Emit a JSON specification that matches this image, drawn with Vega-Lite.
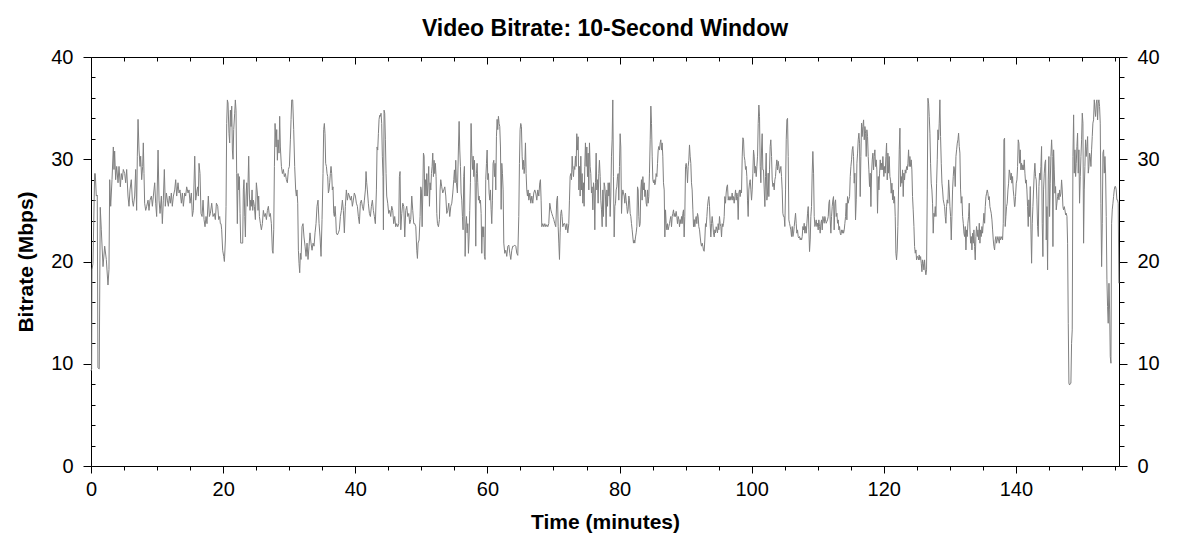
{
  "$schema": "https://vega.github.io/schema/vega-lite/v6.json",
  "width": 1028,
  "height": 409,
  "autosize": "none",
  "padding": {"left": 91, "top": 57, "right": 59, "bottom": 86},
  "background": "#ffffff",
  "title": {
    "text": "Video Bitrate: 10-Second Window",
    "font": "Liberation Sans",
    "fontSize": 23,
    "fontWeight": "bold",
    "color": "#000000",
    "anchor": "middle",
    "offset": 6
  },
  "data": {
    "values": [
      {"t":0,"v":9.3},{"t":0.1,"v":9.5},{"t":0.15,"v":19.2},{"t":0.3,"v":19.8},{"t":0.55,"v":28.6},{"t":0.65,"v":28.6},{"t":0.8,"v":26.4},{"t":0.95,"v":26.5},{"t":1.05,"v":9.6},{"t":1.25,"v":9.5},
      {"t":1.4,"v":25.3},{"t":1.56,"v":23.1},{"t":1.82,"v":19.5},{"t":2.07,"v":21.5},{"t":2.32,"v":20.2},{"t":2.57,"v":17.7},{"t":2.72,"v":19.2},{"t":2.83,"v":28.0},{"t":2.98,"v":25.4},{"t":3.18,"v":28.0},
      {"t":3.38,"v":31.2},{"t":3.48,"v":29.0},{"t":3.58,"v":30.8},{"t":3.73,"v":28.0},{"t":3.89,"v":29.3},{"t":4.09,"v":27.7},{"t":4.24,"v":29.3},{"t":4.44,"v":27.3},{"t":4.59,"v":28.6},{"t":4.74,"v":28.0},
      {"t":4.89,"v":29.0},{"t":5.1,"v":28.6},{"t":5.25,"v":27.7},{"t":5.4,"v":29.0},{"t":5.6,"v":26.4},{"t":5.75,"v":25.4},{"t":5.9,"v":27.0},{"t":6.1,"v":28.0},{"t":6.26,"v":26.0},{"t":6.41,"v":25.4},
      {"t":6.61,"v":26.4},{"t":6.76,"v":29.0},{"t":6.91,"v":25.0},{"t":7.01,"v":30.3},{"t":7.12,"v":33.9},{"t":7.27,"v":30.9},{"t":7.42,"v":29.3},{"t":7.52,"v":30.3},{"t":7.67,"v":28.0},{"t":7.82,"v":29.3},
      {"t":7.92,"v":31.6},{"t":8.02,"v":28.6},{"t":8.12,"v":25.7},{"t":8.28,"v":25.0},{"t":8.43,"v":25.4},{"t":8.63,"v":26.0},{"t":8.78,"v":25.0},{"t":8.93,"v":26.0},{"t":9.14,"v":26.4},{"t":9.29,"v":25.4},
      {"t":9.44,"v":26.4},{"t":9.64,"v":27.7},{"t":9.79,"v":25.7},{"t":9.94,"v":24.4},{"t":10.15,"v":30.9},{"t":10.3,"v":26.0},{"t":10.45,"v":24.7},{"t":10.65,"v":26.4},{"t":10.8,"v":23.7},{"t":10.95,"v":26.0},
      {"t":11.1,"v":29.0},{"t":11.25,"v":25.4},{"t":11.41,"v":26.7},{"t":11.56,"v":26.0},{"t":11.71,"v":25.4},{"t":11.86,"v":26.4},{"t":12.01,"v":25.7},{"t":12.16,"v":26.7},{"t":12.31,"v":25.4},{"t":12.47,"v":26.4},
      {"t":12.67,"v":27.0},{"t":12.82,"v":28.0},{"t":12.97,"v":26.4},{"t":13.17,"v":27.7},{"t":13.32,"v":26.7},{"t":13.47,"v":27.0},{"t":13.68,"v":25.7},{"t":13.83,"v":26.7},{"t":13.98,"v":25.4},{"t":14.18,"v":26.7},
      {"t":14.33,"v":26.4},{"t":14.48,"v":27.3},{"t":14.69,"v":26.7},{"t":14.84,"v":27.0},{"t":14.99,"v":25.7},{"t":15.19,"v":26.7},{"t":15.34,"v":24.4},{"t":15.49,"v":25.0},
      {"t":15.7,"v":30.3},{"t":15.85,"v":26.0},{"t":16.05,"v":27.0},{"t":16.15,"v":27.3},{"t":16.25,"v":26.4},{"t":16.35,"v":29.6},{"t":16.5,"v":28.6},{"t":16.65,"v":24.7},{"t":16.81,"v":24.4},{"t":16.96,"v":26.0},
      {"t":17.11,"v":24.1},{"t":17.26,"v":23.4},{"t":17.41,"v":24.4},{"t":17.56,"v":23.7},{"t":17.76,"v":26.4},{"t":17.92,"v":24.4},{"t":18.07,"v":24.7},{"t":18.27,"v":25.7},{"t":18.47,"v":24.4},{"t":18.67,"v":24.7},
      {"t":18.82,"v":24.1},{"t":18.98,"v":25.7},{"t":19.18,"v":25.4},{"t":19.33,"v":24.1},{"t":19.48,"v":24.4},{"t":19.58,"v":23.7},{"t":19.68,"v":23.7},{"t":19.78,"v":23.1},{"t":19.93,"v":21.1},{"t":20.09,"v":20.5},
      {"t":20.19,"v":20.0},{"t":20.34,"v":22.1},{"t":20.44,"v":25.4},{"t":20.54,"v":33.5},{"t":20.64,"v":35.8},{"t":20.74,"v":35.5},{"t":20.89,"v":32.5},{"t":20.99,"v":31.6},{"t":21.1,"v":34.8},{"t":21.2,"v":33.2},
      {"t":21.3,"v":35.2},{"t":21.4,"v":30.9},{"t":21.5,"v":30.0},{"t":21.6,"v":32.9},{"t":21.75,"v":34.5},{"t":21.85,"v":35.8},{"t":21.95,"v":34.8},{"t":22.05,"v":28.6},{"t":22.15,"v":23.7},{"t":22.26,"v":28.6},
      {"t":22.36,"v":27.0},{"t":22.46,"v":28.3},{"t":22.56,"v":24.7},{"t":22.66,"v":21.8},{"t":22.81,"v":21.8},{"t":22.96,"v":21.8},{"t":23.06,"v":27.0},{"t":23.16,"v":28.0},{"t":23.27,"v":24.4},{"t":23.37,"v":22.4},
      {"t":23.47,"v":26.4},{"t":23.57,"v":27.7},{"t":23.67,"v":25.4},{"t":23.77,"v":27.7},{"t":23.87,"v":30.3},{"t":23.97,"v":26.7},{"t":24.07,"v":25.0},{"t":24.17,"v":26.0},{"t":24.27,"v":25.4},{"t":24.38,"v":27.0},
      {"t":24.48,"v":25.0},{"t":24.58,"v":26.0},{"t":24.73,"v":25.4},{"t":24.88,"v":24.1},{"t":25.03,"v":27.7},{"t":25.18,"v":26.7},{"t":25.28,"v":25.0},{"t":25.38,"v":26.4},{"t":25.49,"v":24.4},{"t":25.64,"v":23.7},
      {"t":25.79,"v":23.1},{"t":25.94,"v":23.7},{"t":26.09,"v":25.0},{"t":26.24,"v":24.4},{"t":26.39,"v":24.7},{"t":26.55,"v":24.1},{"t":26.7,"v":25.0},{"t":26.85,"v":25.4},{"t":27.0,"v":24.4},{"t":27.15,"v":24.7},
      {"t":27.3,"v":23.7},{"t":27.45,"v":21.1},{"t":27.55,"v":20.8},{"t":27.66,"v":23.1},{"t":27.76,"v":29.3},{"t":27.86,"v":33.5},{"t":28.01,"v":31.2},{"t":28.11,"v":32.9},{"t":28.21,"v":29.9},{"t":28.31,"v":31.9},
      {"t":28.46,"v":30.6},{"t":28.56,"v":34.2},{"t":28.66,"v":31.2},{"t":28.82,"v":29.3},{"t":28.97,"v":28.6},{"t":29.12,"v":29.0},{"t":29.27,"v":28.3},{"t":29.42,"v":28.6},{"t":29.57,"v":28.0},{"t":29.72,"v":27.7},
      {"t":29.88,"v":29.0},{"t":30.03,"v":29.3},{"t":30.18,"v":31.9},{"t":30.28,"v":33.9},{"t":30.38,"v":35.8},{"t":30.53,"v":35.8},{"t":30.68,"v":32.9},{"t":30.83,"v":29.3},
      {"t":30.98,"v":27.0},{"t":31.08,"v":26.4},{"t":31.18,"v":27.0},{"t":31.29,"v":25.7},{"t":31.39,"v":21.1},{"t":31.49,"v":19.8},{"t":31.59,"v":18.9},{"t":31.69,"v":20.8},{"t":31.79,"v":20.2},{"t":31.94,"v":23.4},
      {"t":32.09,"v":23.7},{"t":32.24,"v":22.4},{"t":32.4,"v":21.5},{"t":32.55,"v":20.5},{"t":32.7,"v":21.8},{"t":32.85,"v":20.2},{"t":33.0,"v":21.5},{"t":33.15,"v":22.8},{"t":33.3,"v":21.8},{"t":33.46,"v":21.1},
      {"t":33.61,"v":21.8},{"t":33.76,"v":21.5},{"t":33.91,"v":22.8},{"t":34.06,"v":23.7},{"t":34.21,"v":25.4},{"t":34.36,"v":26.0},{"t":34.52,"v":23.7},{"t":34.67,"v":22.4},{"t":34.82,"v":20.5},{"t":34.97,"v":24.1},
      {"t":35.12,"v":28.6},{"t":35.22,"v":32.9},{"t":35.32,"v":33.5},{"t":35.42,"v":32.5},{"t":35.52,"v":29.6},{"t":35.63,"v":29.3},{"t":35.73,"v":28.6},{"t":35.83,"v":28.3},{"t":35.93,"v":26.7},{"t":36.03,"v":27.0},
      {"t":36.13,"v":27.7},{"t":36.23,"v":28.6},{"t":36.33,"v":29.3},{"t":36.43,"v":28.6},{"t":36.53,"v":27.0},{"t":36.63,"v":27.3},{"t":36.74,"v":24.7},{"t":36.84,"v":24.4},{"t":36.94,"v":25.4},{"t":37.04,"v":24.4},
      {"t":37.14,"v":22.8},{"t":37.29,"v":22.6},{"t":37.44,"v":22.8},{"t":37.59,"v":23.1},{"t":37.75,"v":24.4},{"t":37.9,"v":25.0},{"t":38.05,"v":26.0},{"t":38.2,"v":25.0},{"t":38.35,"v":22.8},{"t":38.5,"v":25.4},
      {"t":38.65,"v":27.0},{"t":38.81,"v":26.0},{"t":38.96,"v":26.7},{"t":39.11,"v":26.4},{"t":39.26,"v":26.0},{"t":39.41,"v":26.4},{"t":39.56,"v":25.4},{"t":39.71,"v":26.0},{"t":39.86,"v":26.7},{"t":40.02,"v":26.4},
      {"t":40.17,"v":25.7},{"t":40.32,"v":25.4},{"t":40.47,"v":24.4},{"t":40.62,"v":23.7},{"t":40.77,"v":25.7},{"t":40.92,"v":26.0},{"t":41.08,"v":25.4},{"t":41.23,"v":25.0},{"t":41.38,"v":26.0},{"t":41.53,"v":27.0},
      {"t":41.63,"v":28.8},{"t":41.73,"v":27.7},{"t":41.83,"v":27.0},{"t":41.98,"v":25.7},{"t":42.14,"v":24.7},{"t":42.29,"v":24.4},{"t":42.44,"v":25.4},{"t":42.59,"v":26.0},{"t":42.74,"v":25.0},{"t":42.89,"v":24.4},
      {"t":43.04,"v":23.7},{"t":43.2,"v":27.0},{"t":43.3,"v":31.2},{"t":43.4,"v":30.9},{"t":43.5,"v":32.5},{"t":43.6,"v":33.9},{"t":43.7,"v":34.3},{"t":43.8,"v":34.2},{"t":43.9,"v":34.5},{"t":44.0,"v":33.5},
      {"t":44.1,"v":30.3},{"t":44.2,"v":28.3},{"t":44.26,"v":23.1},{"t":44.36,"v":34.8},{"t":44.46,"v":34.5},{"t":44.56,"v":31.9},{"t":44.66,"v":28.6},{"t":44.76,"v":26.4},{"t":44.91,"v":25.7},{"t":45.06,"v":24.7},
      {"t":45.21,"v":25.0},{"t":45.37,"v":24.4},{"t":45.52,"v":25.4},{"t":45.67,"v":25.0},{"t":45.82,"v":23.7},{"t":45.97,"v":24.4},{"t":46.12,"v":23.4},{"t":46.27,"v":23.7},{"t":46.43,"v":23.4},{"t":46.58,"v":23.7},
      {"t":46.68,"v":28.3},{"t":46.78,"v":28.8},{"t":46.89,"v":23.1},{"t":47.04,"v":24.7},{"t":47.19,"v":25.7},{"t":47.34,"v":25.4},{"t":47.49,"v":22.4},{"t":47.64,"v":25.0},{"t":47.79,"v":25.4},{"t":47.95,"v":24.4},
      {"t":48.1,"v":24.7},{"t":48.25,"v":23.7},{"t":48.4,"v":24.1},{"t":48.55,"v":26.4},{"t":48.7,"v":25.0},{"t":48.85,"v":23.7},{"t":49.0,"v":23.7},{"t":49.16,"v":23.4},{"t":49.31,"v":21.1},{"t":49.41,"v":20.3},
      {"t":49.51,"v":21.8},{"t":49.66,"v":22.1},{"t":49.81,"v":24.4},{"t":49.91,"v":27.3},{"t":50.01,"v":27.0},{"t":50.12,"v":23.4},{"t":50.22,"v":26.7},{"t":50.32,"v":30.6},{"t":50.42,"v":30.3},{"t":50.52,"v":26.4},
      {"t":50.62,"v":28.0},{"t":50.72,"v":26.4},{"t":50.82,"v":28.6},{"t":50.92,"v":26.4},{"t":51.02,"v":27.7},{"t":51.12,"v":29.3},{"t":51.23,"v":25.4},{"t":51.33,"v":27.7},{"t":51.43,"v":27.0},{"t":51.53,"v":28.6},
      {"t":51.63,"v":29.3},{"t":51.73,"v":30.6},{"t":51.83,"v":28.3},{"t":51.93,"v":29.9},{"t":52.03,"v":28.6},{"t":52.13,"v":29.6},{"t":52.23,"v":28.3},{"t":52.34,"v":24.7},{"t":52.44,"v":23.7},{"t":52.59,"v":23.4},
      {"t":52.74,"v":24.1},{"t":52.84,"v":27.0},{"t":52.94,"v":28.0},{"t":53.09,"v":27.3},{"t":53.24,"v":26.7},{"t":53.4,"v":27.0},{"t":53.55,"v":27.3},{"t":53.7,"v":26.4},{"t":53.85,"v":24.7},{"t":54.0,"v":25.0},
      {"t":54.15,"v":25.7},{"t":54.3,"v":24.4},{"t":54.46,"v":25.4},{"t":54.61,"v":25.7},{"t":54.76,"v":26.7},{"t":54.91,"v":28.0},{"t":55.01,"v":28.96},{"t":55.11,"v":27.7},{"t":55.21,"v":29.9},{"t":55.31,"v":27.7},
      {"t":55.46,"v":26.7},{"t":55.62,"v":31.2},{"t":55.72,"v":33.7},{"t":55.82,"v":30.9},{"t":55.92,"v":29.3},{"t":56.02,"v":26.7},{"t":56.12,"v":26.0},{"t":56.22,"v":24.4},{"t":56.32,"v":23.1},{"t":56.42,"v":28.3},
      {"t":56.52,"v":29.3},{"t":56.63,"v":20.5},{"t":56.73,"v":23.4},{"t":56.83,"v":24.4},{"t":56.93,"v":22.8},{"t":57.03,"v":23.7},{"t":57.13,"v":20.8},{"t":57.23,"v":22.4},{"t":57.33,"v":25.0},{"t":57.43,"v":27.7},
      {"t":57.53,"v":33.5},{"t":57.63,"v":30.6},{"t":57.74,"v":29.0},{"t":57.84,"v":30.3},{"t":57.94,"v":28.3},{"t":58.04,"v":29.9},{"t":58.14,"v":27.7},{"t":58.24,"v":21.5},{"t":58.34,"v":28.6},{"t":58.44,"v":29.6},
      {"t":58.54,"v":27.7},{"t":58.64,"v":26.0},{"t":58.75,"v":26.4},{"t":58.85,"v":25.7},{"t":58.95,"v":26.0},{"t":59.05,"v":24.7},{"t":59.15,"v":20.8},{"t":59.25,"v":23.4},{"t":59.35,"v":22.4},{"t":59.45,"v":23.4},
      {"t":59.55,"v":20.5},{"t":59.65,"v":20.2},{"t":59.75,"v":28.0},{"t":59.86,"v":29.6},{"t":59.96,"v":30.9},{"t":60.06,"v":28.0},{"t":60.16,"v":28.6},{"t":60.26,"v":26.7},{"t":60.36,"v":26.0},{"t":60.46,"v":27.0},
      {"t":60.56,"v":25.1},{"t":60.66,"v":23.7},{"t":60.76,"v":26.0},{"t":60.86,"v":29.6},{"t":60.97,"v":29.9},{"t":61.07,"v":28.3},{"t":61.17,"v":29.6},{"t":61.27,"v":27.0},{"t":61.37,"v":32.2},{"t":61.47,"v":33.9},
      {"t":61.57,"v":32.9},{"t":61.67,"v":34.2},{"t":61.77,"v":33.5},{"t":61.87,"v":33.2},{"t":61.98,"v":31.2},{"t":62.08,"v":25.1},{"t":62.18,"v":29.6},{"t":62.28,"v":28.6},{"t":62.38,"v":27.0},{"t":62.48,"v":21.8},
      {"t":62.63,"v":20.8},{"t":62.78,"v":21.1},{"t":62.93,"v":20.5},{"t":63.09,"v":21.5},{"t":63.24,"v":21.6},{"t":63.39,"v":20.8},{"t":63.54,"v":20.2},{"t":63.69,"v":21.1},{"t":63.84,"v":21.5},{"t":63.99,"v":21.5},
      {"t":64.15,"v":21.6},{"t":64.3,"v":21.5},{"t":64.45,"v":20.8},{"t":64.6,"v":20.6},
      {"t":64.75,"v":24.4},{"t":64.85,"v":29.6},{"t":64.95,"v":32.9},{"t":65.05,"v":33.5},{"t":65.15,"v":33.2},{"t":65.26,"v":30.3},{"t":65.36,"v":29.0},{"t":65.46,"v":29.9},{"t":65.56,"v":28.6},{"t":65.66,"v":29.3},
      {"t":65.76,"v":31.6},{"t":65.86,"v":28.6},{"t":65.96,"v":27.0},{"t":66.06,"v":26.4},{"t":66.16,"v":27.0},{"t":66.27,"v":26.0},{"t":66.42,"v":26.7},{"t":66.57,"v":25.7},{"t":66.72,"v":26.4},{"t":66.87,"v":25.7},
      {"t":67.02,"v":26.7},{"t":67.17,"v":27.0},{"t":67.32,"v":26.7},{"t":67.48,"v":26.0},{"t":67.63,"v":27.0},{"t":67.78,"v":26.4},{"t":67.93,"v":27.7},{"t":68.03,"v":28.0},{"t":68.13,"v":26.0},{"t":68.23,"v":23.4},
      {"t":68.38,"v":23.7},{"t":68.54,"v":23.4},{"t":68.69,"v":23.7},{"t":68.84,"v":23.4},{"t":68.99,"v":23.6},{"t":69.14,"v":23.4},{"t":69.29,"v":23.7},{"t":69.44,"v":25.7},{"t":69.6,"v":25.05},{"t":69.75,"v":24.7},
      {"t":69.9,"v":24.4},{"t":70.05,"v":24.1},{"t":70.2,"v":23.7},{"t":70.35,"v":23.4},{"t":70.5,"v":26.0},{"t":70.61,"v":26.4},{"t":70.71,"v":23.4},{"t":70.81,"v":21.8},{"t":70.91,"v":20.2},{"t":71.01,"v":22.8},
      {"t":71.11,"v":24.7},{"t":71.21,"v":25.05},{"t":71.31,"v":24.4},{"t":71.41,"v":23.4},{"t":71.56,"v":23.7},{"t":71.72,"v":23.7},{"t":71.87,"v":23.1},{"t":72.02,"v":23.7},{"t":72.17,"v":22.8},{"t":72.32,"v":23.7},
      {"t":72.42,"v":26.0},{"t":72.52,"v":28.3},{"t":72.62,"v":28.6},{"t":72.73,"v":28.0},{"t":72.83,"v":30.3},{"t":72.93,"v":29.0},{"t":73.03,"v":28.3},{"t":73.13,"v":29.3},{"t":73.23,"v":29.0},{"t":73.33,"v":30.3},
      {"t":73.43,"v":29.3},{"t":73.53,"v":32.5},{"t":73.63,"v":30.9},{"t":73.73,"v":32.2},{"t":73.84,"v":27.0},{"t":73.94,"v":29.3},{"t":74.04,"v":26.4},{"t":74.14,"v":30.3},{"t":74.24,"v":27.0},{"t":74.34,"v":28.6},
      {"t":74.44,"v":25.7},{"t":74.54,"v":27.7},{"t":74.64,"v":25.4},{"t":74.74,"v":29.3},{"t":74.84,"v":31.6},{"t":74.95,"v":29.3},{"t":75.05,"v":31.2},{"t":75.15,"v":28.3},{"t":75.25,"v":30.6},{"t":75.35,"v":27.0},
      {"t":75.45,"v":31.6},{"t":75.55,"v":29.3},{"t":75.65,"v":28.6},{"t":75.75,"v":26.7},{"t":75.85,"v":27.3},{"t":75.96,"v":25.05},{"t":76.06,"v":27.7},{"t":76.16,"v":27.0},{"t":76.26,"v":23.1},{"t":76.36,"v":27.7},
      {"t":76.46,"v":30.6},{"t":76.56,"v":27.0},{"t":76.66,"v":28.0},{"t":76.76,"v":25.7},{"t":76.86,"v":28.6},{"t":76.96,"v":29.9},{"t":77.07,"v":28.3},{"t":77.17,"v":26.0},{"t":77.27,"v":25.05},{"t":77.37,"v":23.4},
      {"t":77.47,"v":27.0},{"t":77.57,"v":24.4},{"t":77.67,"v":27.7},{"t":77.77,"v":27.3},{"t":77.87,"v":26.4},{"t":77.97,"v":23.4},{"t":78.08,"v":27.0},{"t":78.18,"v":25.4},{"t":78.28,"v":27.7},{"t":78.38,"v":26.4},
      {"t":78.48,"v":27.7},{"t":78.58,"v":24.4},{"t":78.68,"v":26.4},{"t":78.78,"v":30.3},{"t":78.88,"v":31.9},{"t":78.98,"v":35.8},{"t":79.08,"v":28.3},{"t":79.19,"v":22.4},{"t":79.29,"v":25.4},{"t":79.39,"v":25.7},
      {"t":79.49,"v":27.0},{"t":79.59,"v":27.3},{"t":79.69,"v":28.3},{"t":79.79,"v":28.6},{"t":79.89,"v":26.0},{"t":79.99,"v":29.3},{"t":80.09,"v":32.5},{"t":80.19,"v":31.2},{"t":80.3,"v":24.7},{"t":80.4,"v":26.4},
      {"t":80.5,"v":27.0},{"t":80.6,"v":26.7},{"t":80.7,"v":26.4},{"t":80.8,"v":25.7},{"t":80.9,"v":26.7},{"t":81.0,"v":26.0},{"t":81.1,"v":25.4},{"t":81.2,"v":24.7},{"t":81.3,"v":25.05},{"t":81.41,"v":26.4},
      {"t":81.51,"v":26.0},{"t":81.61,"v":24.7},{"t":81.71,"v":24.4},{"t":81.81,"v":23.7},{"t":81.91,"v":23.1},{"t":82.01,"v":22.4},{"t":82.11,"v":21.8},{"t":82.21,"v":22.1},{"t":82.31,"v":21.8},{"t":82.42,"v":22.4},
      {"t":82.52,"v":22.8},{"t":82.62,"v":23.4},{"t":82.72,"v":27.3},{"t":82.82,"v":27.0},{"t":82.92,"v":24.4},{"t":83.02,"v":23.4},{"t":83.12,"v":23.7},
      {"t":83.22,"v":27.0},{"t":83.32,"v":28.0},{"t":83.42,"v":26.0},{"t":83.53,"v":28.3},{"t":83.63,"v":27.0},{"t":83.73,"v":27.7},{"t":83.83,"v":26.35},{"t":83.93,"v":27.0},{"t":84.03,"v":25.7},{"t":84.13,"v":25.4},
      {"t":84.23,"v":27.0},{"t":84.33,"v":25.7},{"t":84.43,"v":26.35},{"t":84.53,"v":28.64},{"t":84.64,"v":31.9},{"t":84.74,"v":35.2},{"t":84.84,"v":33.5},{"t":84.94,"v":30.3},{"t":85.04,"v":28.0},{"t":85.14,"v":27.7},
      {"t":85.24,"v":28.0},{"t":85.34,"v":27.5},{"t":85.44,"v":27.7},{"t":85.54,"v":28.6},{"t":85.65,"v":28.3},{"t":85.75,"v":29.6},{"t":85.85,"v":30.9},{"t":85.95,"v":31.25},{"t":86.05,"v":30.9},{"t":86.15,"v":31.6},
      {"t":86.25,"v":31.9},{"t":86.35,"v":30.9},{"t":86.45,"v":31.6},{"t":86.55,"v":30.3},{"t":86.65,"v":27.7},{"t":86.76,"v":27.0},{"t":86.86,"v":22.4},{"t":86.96,"v":25.05},{"t":87.06,"v":23.7},{"t":87.16,"v":23.1},
      {"t":87.26,"v":23.7},{"t":87.36,"v":23.1},{"t":87.46,"v":23.4},{"t":87.56,"v":23.7},{"t":87.66,"v":24.1},{"t":87.76,"v":24.4},{"t":87.87,"v":23.4},{"t":87.97,"v":24.4},{"t":88.07,"v":24.7},{"t":88.17,"v":25.05},
      {"t":88.27,"v":24.4},{"t":88.37,"v":24.7},{"t":88.47,"v":24.4},{"t":88.57,"v":24.9},{"t":88.67,"v":24.4},{"t":88.77,"v":23.7},{"t":88.88,"v":24.4},{"t":88.98,"v":24.1},{"t":89.08,"v":23.4},{"t":89.18,"v":24.1},
      {"t":89.28,"v":23.7},{"t":89.38,"v":24.4},{"t":89.48,"v":23.7},{"t":89.58,"v":24.7},{"t":89.68,"v":25.05},{"t":89.78,"v":22.4},{"t":89.88,"v":24.4},{"t":89.99,"v":29.3},{"t":90.09,"v":29.6},{"t":90.19,"v":28.96},
      {"t":90.29,"v":27.7},{"t":90.39,"v":29.3},{"t":90.49,"v":29.9},{"t":90.59,"v":31.4},{"t":90.69,"v":30.3},{"t":90.79,"v":29.6},{"t":90.89,"v":27.7},{"t":90.99,"v":27.0},{"t":91.1,"v":25.05},{"t":91.2,"v":23.4},
      {"t":91.3,"v":24.1},{"t":91.4,"v":23.4},{"t":91.5,"v":24.1},{"t":91.6,"v":24.4},{"t":91.7,"v":23.7},{"t":91.8,"v":24.7},{"t":91.9,"v":24.4},{"t":92.0,"v":23.4},{"t":92.11,"v":23.1},{"t":92.21,"v":22.4},
      {"t":92.31,"v":21.8},{"t":92.41,"v":21.5},{"t":92.51,"v":21.8},{"t":92.61,"v":21.5},{"t":92.71,"v":21.1},{"t":92.81,"v":21.0},{"t":92.91,"v":22.1},{"t":93.01,"v":23.7},{"t":93.11,"v":23.4},{"t":93.22,"v":24.4},
      {"t":93.32,"v":25.4},{"t":93.42,"v":26.0},{"t":93.52,"v":26.35},{"t":93.62,"v":25.4},{"t":93.72,"v":23.7},{"t":93.82,"v":22.4},{"t":93.92,"v":23.7},{"t":94.02,"v":24.4},{"t":94.12,"v":23.7},{"t":94.22,"v":22.8},
      {"t":94.33,"v":22.4},{"t":94.43,"v":23.1},{"t":94.53,"v":22.8},{"t":94.63,"v":23.4},{"t":94.73,"v":23.1},{"t":94.83,"v":22.8},{"t":94.93,"v":23.7},{"t":95.03,"v":23.1},{"t":95.13,"v":24.4},{"t":95.23,"v":23.7},
      {"t":95.34,"v":23.4},{"t":95.44,"v":22.4},{"t":95.54,"v":23.7},{"t":95.64,"v":23.4},{"t":95.74,"v":23.7},{"t":95.84,"v":24.4},{"t":95.94,"v":26.35},{"t":96.04,"v":25.7},{"t":96.14,"v":26.7},{"t":96.24,"v":27.3},
      {"t":96.34,"v":27.5},{"t":96.45,"v":26.0},{"t":96.55,"v":26.35},{"t":96.65,"v":26.0},{"t":96.75,"v":26.35},{"t":96.85,"v":26.0},{"t":96.95,"v":26.2},{"t":97.05,"v":26.7},{"t":97.15,"v":26.0},{"t":97.25,"v":26.35},
      {"t":97.35,"v":25.7},{"t":97.46,"v":26.35},{"t":97.56,"v":27.0},{"t":97.66,"v":26.0},{"t":97.76,"v":26.7},{"t":97.86,"v":26.35},{"t":97.96,"v":24.1},{"t":98.06,"v":26.7},{"t":98.16,"v":27.0},{"t":98.26,"v":26.35},
      {"t":98.36,"v":27.0},{"t":98.46,"v":26.7},{"t":98.57,"v":30.3},{"t":98.67,"v":32.1},{"t":98.77,"v":31.9},{"t":98.87,"v":30.3},{"t":98.97,"v":29.9},{"t":99.07,"v":29.0},{"t":99.17,"v":29.3},{"t":99.27,"v":28.3},
      {"t":99.37,"v":26.0},{"t":99.47,"v":24.4},{"t":99.57,"v":27.0},{"t":99.68,"v":27.7},{"t":99.78,"v":28.0},{"t":99.88,"v":27.0},{"t":99.98,"v":26.0},{"t":100.08,"v":27.0},{"t":100.18,"v":28.64},{"t":100.28,"v":30.9},
      {"t":100.38,"v":30.3},{"t":100.48,"v":28.64},{"t":100.58,"v":29.3},{"t":100.69,"v":28.3},{"t":100.79,"v":29.3},{"t":100.89,"v":30.3},{"t":100.99,"v":33.5},{"t":101.09,"v":35.3},{"t":101.19,"v":34.2},{"t":101.29,"v":29.3},
      {"t":101.39,"v":27.7},{"t":101.49,"v":30.9},{"t":101.59,"v":32.5},{"t":101.69,"v":28.96},
      {"t":101.79,"v":28.96},{"t":101.9,"v":27.0},{"t":102.0,"v":25.37},{"t":102.1,"v":28.3},{"t":102.2,"v":30.6},{"t":102.3,"v":26.0},{"t":102.4,"v":26.7},{"t":102.5,"v":28.64},{"t":102.6,"v":26.35},{"t":102.7,"v":28.96},
      {"t":102.8,"v":31.25},{"t":102.9,"v":31.9},{"t":103.01,"v":30.27},{"t":103.11,"v":27.98},{"t":103.21,"v":27.33},{"t":103.31,"v":27.66},{"t":103.41,"v":27.0},{"t":103.51,"v":27.98},{"t":103.61,"v":28.31},{"t":103.71,"v":29.3},
      {"t":103.81,"v":29.94},{"t":103.91,"v":28.96},{"t":104.02,"v":29.8},{"t":104.12,"v":29.3},{"t":104.22,"v":28.64},{"t":104.32,"v":28.96},{"t":104.42,"v":29.3},{"t":104.52,"v":28.31},{"t":104.62,"v":27.0},{"t":104.72,"v":24.72},
      {"t":104.82,"v":24.4},{"t":104.92,"v":24.4},{"t":105.02,"v":23.42},{"t":105.13,"v":27.0},{"t":105.23,"v":31.9},{"t":105.33,"v":33.85},{"t":105.43,"v":34.0},{"t":105.53,"v":30.27},{"t":105.63,"v":24.07},{"t":105.73,"v":23.74},
      {"t":105.83,"v":23.42},{"t":105.93,"v":23.09},{"t":106.03,"v":22.44},{"t":106.14,"v":23.42},{"t":106.24,"v":22.44},{"t":106.34,"v":22.77},{"t":106.44,"v":23.42},{"t":106.54,"v":24.07},{"t":106.64,"v":24.72},{"t":106.74,"v":23.74},
      {"t":106.84,"v":22.77},{"t":106.94,"v":23.09},{"t":107.04,"v":22.44},{"t":107.14,"v":22.3},{"t":107.25,"v":22.44},{"t":107.35,"v":22.11},{"t":107.45,"v":22.3},{"t":107.55,"v":22.11},{"t":107.65,"v":22.44},{"t":107.75,"v":23.42},
      {"t":107.85,"v":23.09},{"t":107.95,"v":23.74},{"t":108.05,"v":22.77},{"t":108.15,"v":23.42},{"t":108.26,"v":22.77},{"t":108.36,"v":23.74},{"t":108.46,"v":24.72},{"t":108.56,"v":25.37},{"t":108.66,"v":23.09},{"t":108.76,"v":20.97},
      {"t":108.86,"v":22.11},{"t":108.96,"v":24.4},{"t":109.06,"v":25.37},{"t":109.16,"v":28.64},{"t":109.26,"v":30.76},{"t":109.37,"v":28.64},{"t":109.47,"v":24.4},{"t":109.57,"v":23.42},{"t":109.67,"v":23.74},{"t":109.77,"v":24.07},
      {"t":109.87,"v":23.42},{"t":109.97,"v":23.74},{"t":110.07,"v":23.09},{"t":110.17,"v":24.07},{"t":110.27,"v":23.42},{"t":110.37,"v":22.77},{"t":110.48,"v":23.74},{"t":110.58,"v":24.07},{"t":110.68,"v":23.09},{"t":110.78,"v":24.4},
      {"t":110.88,"v":24.07},{"t":110.98,"v":23.74},{"t":111.08,"v":24.4},{"t":111.18,"v":24.07},{"t":111.28,"v":23.74},{"t":111.38,"v":23.9},{"t":111.48,"v":24.07},{"t":111.59,"v":24.4},{"t":111.69,"v":25.7},{"t":111.79,"v":26.03},
      {"t":111.89,"v":24.07},{"t":111.99,"v":22.77},{"t":112.09,"v":24.4},{"t":112.19,"v":25.37},{"t":112.29,"v":26.03},{"t":112.39,"v":26.35},{"t":112.49,"v":23.09},{"t":112.6,"v":25.7},{"t":112.7,"v":26.03},{"t":112.8,"v":24.4},
      {"t":112.9,"v":24.72},{"t":113.0,"v":23.74},{"t":113.1,"v":24.07},{"t":113.2,"v":23.09},{"t":113.3,"v":23.42},{"t":113.4,"v":22.77},{"t":113.5,"v":22.6},{"t":113.6,"v":23.09},{"t":113.71,"v":22.77},{"t":113.81,"v":23.09},
      {"t":113.91,"v":22.77},{"t":114.01,"v":23.09},{"t":114.11,"v":23.74},{"t":114.21,"v":24.4},{"t":114.31,"v":25.7},{"t":114.41,"v":24.07},{"t":114.51,"v":26.35},{"t":114.61,"v":25.7},{"t":114.71,"v":26.03},{"t":114.82,"v":26.35},
      {"t":114.92,"v":28.31},{"t":115.02,"v":29.29},{"t":115.12,"v":29.94},{"t":115.22,"v":30.92},{"t":115.32,"v":31.25},{"t":115.42,"v":30.27},{"t":115.52,"v":27.66},{"t":115.62,"v":28.64},{"t":115.72,"v":24.07},{"t":115.83,"v":26.03},
      {"t":115.93,"v":29.61},{"t":116.03,"v":30.6},{"t":116.13,"v":31.9},{"t":116.23,"v":32.55},{"t":116.33,"v":31.57},{"t":116.43,"v":26.35},{"t":116.53,"v":30.27},{"t":116.63,"v":33.53},{"t":116.73,"v":32.22},{"t":116.83,"v":33.2},
      {"t":116.94,"v":33.85},{"t":117.04,"v":31.9},{"t":117.14,"v":33.2},{"t":117.24,"v":32.55},{"t":117.34,"v":30.27},{"t":117.44,"v":32.88},{"t":117.54,"v":32.22},{"t":117.64,"v":30.27},{"t":117.74,"v":28.96},{"t":117.84,"v":27.33},
      {"t":117.94,"v":28.64},{"t":118.05,"v":25.37},{"t":118.15,"v":28.64},{"t":118.25,"v":29.94},{"t":118.35,"v":30.6},{"t":118.45,"v":28.96},{"t":118.55,"v":30.27},{"t":118.65,"v":30.92},{"t":118.75,"v":29.29},{"t":118.85,"v":29.94},
      {"t":118.95,"v":28.96},{"t":119.05,"v":24.72},{"t":119.16,"v":28.31},{"t":119.26,"v":27.0},{"t":119.36,"v":28.64},{"t":119.46,"v":29.94},{"t":119.56,"v":28.96},{"t":119.66,"v":29.61},{"t":119.76,"v":28.96},{"t":119.86,"v":30.27},
      {"t":120.01,"v":28.31},{"t":120.11,"v":29.29},{"t":120.22,"v":28.64},{"t":120.32,"v":30.27},{"t":120.42,"v":31.57},{"t":120.52,"v":27.98},{"t":120.62,"v":30.6},{"t":120.72,"v":28.64},{"t":120.82,"v":30.27},{"t":120.92,"v":28.31},
      {"t":121.02,"v":27.98},{"t":121.12,"v":26.68},{"t":121.23,"v":27.66},{"t":121.33,"v":26.03},{"t":121.43,"v":27.0},{"t":121.53,"v":25.7},{"t":121.63,"v":26.35},{"t":121.73,"v":24.4},{"t":121.83,"v":20.81},{"t":121.93,"v":20.16},
      {"t":122.03,"v":21.13},{"t":122.13,"v":23.42},{"t":122.23,"v":27.0},{"t":122.34,"v":30.92},{"t":122.44,"v":33.04},{"t":122.54,"v":27.33},{"t":122.64,"v":28.31},{"t":122.74,"v":27.66},{"t":122.84,"v":28.96},{"t":122.94,"v":26.35},
      {"t":123.04,"v":28.64},{"t":123.14,"v":27.98},{"t":123.24,"v":28.96},{"t":123.34,"v":28.64},{"t":123.45,"v":29.29},{"t":123.55,"v":28.96},{"t":123.65,"v":29.61},{"t":123.75,"v":30.92},{"t":123.85,"v":29.29},{"t":123.95,"v":30.27},
      {"t":124.05,"v":29.29},{"t":124.15,"v":29.94},{"t":124.25,"v":28.96},{"t":124.35,"v":26.35},{"t":124.45,"v":25.05},{"t":124.56,"v":23.42},{"t":124.66,"v":21.46},{"t":124.76,"v":20.81},{"t":124.86,"v":21.13},{"t":124.96,"v":20.16},
      {"t":125.06,"v":20.48},{"t":125.16,"v":20.48},{"t":125.26,"v":20.16},{"t":125.36,"v":20.64},{"t":125.46,"v":20.16},{"t":125.57,"v":20.48},{"t":125.67,"v":19.83},{"t":125.77,"v":19.0},{"t":125.87,"v":20.16},{"t":125.97,"v":19.83},
      {"t":126.07,"v":19.18},{"t":126.17,"v":20.16},{"t":126.27,"v":19.18},{"t":126.37,"v":18.7},{"t":126.47,"v":19.18},{"t":126.58,"v":27.0},{"t":126.68,"v":35.97},{"t":126.78,"v":35.49},{"t":126.88,"v":34.18},{"t":126.98,"v":32.55},
      {"t":127.08,"v":29.61},{"t":127.18,"v":27.66},{"t":127.28,"v":27.0},{"t":127.38,"v":25.7},{"t":127.48,"v":22.77},{"t":127.58,"v":24.72},{"t":127.69,"v":24.4},{"t":127.79,"v":25.37},{"t":127.89,"v":24.4},{"t":127.99,"v":27.66},
      {"t":128.09,"v":29.94},{"t":128.19,"v":32.88},{"t":128.29,"v":31.9},{"t":128.39,"v":33.53},{"t":128.49,"v":35.81},{"t":128.59,"v":32.22},{"t":128.7,"v":29.61},{"t":128.8,"v":27.66},{"t":128.9,"v":27.0},{"t":129.0,"v":26.03},
      {"t":129.1,"v":25.7},{"t":129.2,"v":25.37},{"t":129.3,"v":24.4},{"t":129.4,"v":23.74},{"t":129.5,"v":25.37},{"t":129.6,"v":26.03},{"t":129.7,"v":25.7},{"t":129.81,"v":27.98},{"t":129.91,"v":27.0},{"t":130.01,"v":25.37},
      {"t":130.11,"v":24.4},{"t":130.21,"v":22.11},{"t":130.31,"v":24.4},{"t":130.41,"v":27.0},{"t":130.51,"v":28.31},{"t":130.61,"v":29.29},{"t":130.71,"v":28.96},{"t":130.81,"v":27.33},{"t":130.92,"v":30.27},{"t":131.02,"v":30.92},
      {"t":131.12,"v":31.57},{"t":131.22,"v":31.9},{"t":131.32,"v":32.55},{"t":131.42,"v":31.25},{"t":131.52,"v":30.6},{"t":131.62,"v":27.0},{"t":131.72,"v":25.7},{"t":131.82,"v":26.35},{"t":131.93,"v":24.4},{"t":132.03,"v":23.74},
      {"t":132.13,"v":22.77},{"t":132.23,"v":22.44},{"t":132.33,"v":23.42},{"t":132.43,"v":21.13},{"t":132.53,"v":23.09},{"t":132.63,"v":22.44},{"t":132.73,"v":23.74},{"t":132.83,"v":24.4},{"t":132.93,"v":25.7},{"t":133.04,"v":23.09},
      {"t":133.14,"v":21.79},{"t":133.24,"v":22.44},{"t":133.34,"v":21.13},{"t":133.44,"v":22.77},{"t":133.54,"v":21.79},{"t":133.64,"v":23.09},{"t":133.74,"v":21.46},{"t":133.84,"v":20.16},{"t":133.94,"v":22.44},{"t":134.04,"v":23.42},
      {"t":134.15,"v":22.44},{"t":134.25,"v":23.09},{"t":134.35,"v":22.11},{"t":134.45,"v":23.74},{"t":134.55,"v":21.79},{"t":134.65,"v":23.09},{"t":134.75,"v":22.44},{"t":134.85,"v":23.42},{"t":134.95,"v":22.77},{"t":135.05,"v":23.74},
      {"t":135.15,"v":24.72},{"t":135.26,"v":23.74},{"t":135.36,"v":25.37},{"t":135.46,"v":26.35},{"t":135.56,"v":26.68},{"t":135.66,"v":27.0},{"t":135.76,"v":26.68},{"t":135.86,"v":26.03},{"t":135.96,"v":26.35},{"t":136.06,"v":25.37},
      {"t":136.16,"v":25.05},{"t":136.26,"v":24.72},{"t":136.37,"v":24.07},{"t":136.47,"v":23.09},{"t":136.57,"v":22.11},{"t":136.67,"v":21.46},{"t":136.77,"v":21.13},{"t":136.87,"v":22.11},{"t":136.97,"v":22.44},{"t":137.07,"v":21.79},
      {"t":137.17,"v":22.11},{"t":137.27,"v":22.44},{"t":137.37,"v":22.11},{"t":137.48,"v":21.79},{"t":137.58,"v":22.44},{"t":137.68,"v":22.11},{"t":137.78,"v":22.3},{"t":137.88,"v":22.44},{"t":137.98,"v":22.11},{"t":138.08,"v":23.74},
      {"t":138.18,"v":31.9},{"t":138.28,"v":32.06},{"t":138.38,"v":23.42},{"t":138.48,"v":24.4},{"t":138.58,"v":25.37},{"t":138.68,"v":25.7},{"t":138.79,"v":27.0},{"t":138.89,"v":27.66},{"t":138.99,"v":28.96},{"t":139.09,"v":28.64},
      {"t":139.19,"v":27.98},{"t":139.29,"v":28.64},{"t":139.39,"v":27.66},{"t":139.49,"v":28.31},{"t":139.59,"v":27.0},{"t":139.69,"v":26.35},{"t":139.79,"v":25.37},
      {"t":139.84,"v":25.37},{"t":139.94,"v":26.35},{"t":140.05,"v":27.66},{"t":140.15,"v":27.98},{"t":140.25,"v":29.29},{"t":140.35,"v":31.9},{"t":140.45,"v":31.57},{"t":140.55,"v":29.61},{"t":140.65,"v":30.92},{"t":140.75,"v":28.96},
      {"t":140.85,"v":29.61},{"t":140.95,"v":28.96},{"t":141.06,"v":29.45},{"t":141.16,"v":28.96},{"t":141.26,"v":29.94},{"t":141.36,"v":28.64},{"t":141.46,"v":27.66},{"t":141.56,"v":27.98},{"t":141.66,"v":27.0},{"t":141.76,"v":25.37},
      {"t":141.86,"v":23.42},{"t":141.96,"v":26.03},{"t":142.06,"v":24.4},{"t":142.17,"v":27.33},{"t":142.27,"v":23.09},{"t":142.37,"v":19.83},{"t":142.47,"v":23.74},{"t":142.57,"v":25.37},{"t":142.67,"v":27.0},{"t":142.77,"v":28.64},
      {"t":142.87,"v":29.61},{"t":142.97,"v":28.31},{"t":143.07,"v":27.98},{"t":143.17,"v":26.03},{"t":143.28,"v":23.42},{"t":143.38,"v":22.44},{"t":143.48,"v":27.33},{"t":143.58,"v":28.64},{"t":143.68,"v":27.98},{"t":143.78,"v":29.29},
      {"t":143.88,"v":31.25},{"t":143.98,"v":23.74},{"t":144.08,"v":20.48},{"t":144.18,"v":27.0},{"t":144.29,"v":28.64},{"t":144.39,"v":29.61},{"t":144.49,"v":29.94},{"t":144.59,"v":22.11},{"t":144.69,"v":25.37},{"t":144.79,"v":19.18},
      {"t":144.89,"v":27.98},{"t":144.99,"v":30.27},{"t":145.09,"v":24.4},{"t":145.19,"v":27.66},{"t":145.29,"v":30.27},{"t":145.4,"v":31.9},{"t":145.5,"v":30.27},{"t":145.6,"v":21.46},{"t":145.7,"v":30.92},{"t":145.8,"v":28.96},
      {"t":145.9,"v":26.68},{"t":146.0,"v":27.33},{"t":146.1,"v":25.05},{"t":146.2,"v":25.7},{"t":146.3,"v":26.35},{"t":146.4,"v":26.68},{"t":146.51,"v":26.03},{"t":146.61,"v":27.0},{"t":146.71,"v":26.35},{"t":146.81,"v":26.68},
      {"t":146.91,"v":27.98},{"t":147.01,"v":27.0},{"t":147.11,"v":25.37},{"t":147.21,"v":25.05},{"t":147.31,"v":25.37},{"t":147.41,"v":25.05},{"t":147.52,"v":24.56},{"t":147.62,"v":24.72},{"t":147.72,"v":24.4},{"t":147.82,"v":21.79},
      {"t":147.92,"v":13.96},{"t":148.02,"v":8.09},{"t":148.12,"v":7.92},{"t":148.22,"v":8.09},{"t":148.32,"v":8.09},{"t":148.42,"v":12.0},{"t":148.52,"v":13.31},{"t":148.63,"v":30.27},{"t":148.73,"v":34.34},{"t":148.83,"v":28.64},
      {"t":148.93,"v":30.92},{"t":149.03,"v":28.31},{"t":149.13,"v":29.61},{"t":149.23,"v":31.25},{"t":149.33,"v":32.55},{"t":149.43,"v":28.64},{"t":149.53,"v":30.92},{"t":149.63,"v":25.7},{"t":149.74,"v":28.31},{"t":149.84,"v":30.27},
      {"t":149.94,"v":31.9},{"t":150.04,"v":34.51},{"t":150.14,"v":33.53},{"t":150.24,"v":21.79},{"t":150.34,"v":27.0},{"t":150.44,"v":29.29},{"t":150.54,"v":31.9},{"t":150.64,"v":30.27},{"t":150.75,"v":31.25},{"t":150.85,"v":32.22},
      {"t":150.95,"v":28.64},{"t":151.05,"v":29.29},{"t":151.15,"v":30.6},{"t":151.25,"v":30.27},{"t":151.35,"v":29.29},{"t":151.45,"v":30.92},{"t":151.55,"v":32.22},{"t":151.65,"v":33.53},{"t":151.75,"v":33.85},{"t":151.86,"v":35.81},
      {"t":151.96,"v":34.83},{"t":152.06,"v":34.18},{"t":152.16,"v":35.49},{"t":152.26,"v":35.81},{"t":152.36,"v":33.85},{"t":152.46,"v":35.49},{"t":152.56,"v":35.81},{"t":152.66,"v":35.16},{"t":152.76,"v":33.53},{"t":152.86,"v":25.7},
      {"t":152.97,"v":19.5},{"t":153.07,"v":23.74},{"t":153.17,"v":30.6},{"t":153.27,"v":30.92},{"t":153.37,"v":28.64},{"t":153.47,"v":30.27},{"t":153.57,"v":28.64},{"t":153.67,"v":24.4},{"t":153.77,"v":18.2},{"t":153.87,"v":15.59},
      {"t":153.97,"v":13.96},{"t":154.08,"v":17.87},{"t":154.18,"v":15.26},{"t":154.28,"v":10.7},{"t":154.38,"v":10.05},{"t":154.48,"v":23.74},{"t":154.58,"v":25.05},{"t":154.68,"v":25.7},{"t":154.78,"v":26.35},{"t":154.88,"v":27.0},
      {"t":154.98,"v":27.33},{"t":155.08,"v":27.33},{"t":155.18,"v":27.0},{"t":155.28,"v":26.03},{"t":155.38,"v":26.03},{"t":155.48,"v":25.7},{"t":155.58,"v":17.87}
    ]
  },
  "layer": [
    {
      "mark": {"type": "line", "color": "#808080", "strokeWidth": 1},
      "encoding": {
        "x": {
          "field": "t",
          "type": "quantitative",
          "scale": {"domain": [0, 155.6], "nice": false, "zero": false},
          "axis": {
            "orient": "bottom",
            "title": "Time (minutes)",
            "values": [0,5,10,15,20,25,30,35,40,45,50,55,60,65,70,75,80,85,90,95,100,105,110,115,120,125,130,135,140,145,150,155],
            "labelExpr": "datum.value % 20 === 0 ? datum.label : ''",
            "tickSize": {"condition": {"test": "datum.value % 20 === 0", "value": 7}, "value": 4},
            "labelPadding": 6,
            "titlePadding": 12
          }
        },
        "y": {
          "field": "v",
          "type": "quantitative",
          "scale": {"domain": [0, 40], "nice": false},
          "axis": {
            "orient": "left",
            "title": "Bitrate (Mbps)",
            "values": [0,2,4,6,8,10,12,14,16,18,20,22,24,26,28,30,32,34,36,38,40],
            "labelExpr": "datum.value % 10 === 0 ? datum.label : ''",
            "tickSize": {"condition": {"test": "datum.value % 10 === 0", "value": 8}, "value": -4},
            "labelPadding": 10,
            "titlePadding": 14
          }
        }
      }
    },
    {
      "mark": {"type": "line", "opacity": 0},
      "encoding": {
        "x": {
          "field": "t",
          "type": "quantitative",
          "scale": {"domain": [0, 155.6], "nice": false, "zero": false},
          "axis": {
            "orient": "top",
            "title": null,
            "labels": false,
            "values": [0,5,10,15,20,25,30,35,40,45,50,55,60,65,70,75,80,85,90,95,100,105,110,115,120,125,130,135,140,145,150,155],
            "tickSize": {"condition": {"test": "datum.value % 20 === 0", "value": -7}, "value": -4}
          }
        },
        "y": {
          "field": "v",
          "type": "quantitative",
          "scale": {"domain": [0, 40], "nice": false},
          "axis": {
            "orient": "right",
            "title": null,
            "values": [0,2,4,6,8,10,12,14,16,18,20,22,24,26,28,30,32,34,36,38,40],
            "labelExpr": "datum.value % 10 === 0 ? datum.label : ''",
            "tickSize": {"condition": {"test": "datum.value % 10 === 0", "value": 8}, "value": 5},
            "labelPadding": 10
          }
        }
      }
    }
  ],
  "resolve": {"axis": {"x": "independent", "y": "independent"}},
  "config": {
    "view": {"stroke": null},
    "axis": {
      "grid": false,
      "domainColor": "#000000",
      "domainWidth": 1,
      "tickColor": "#000000",
      "tickWidth": 1,
      "labelColor": "#000000",
      "titleColor": "#000000",
      "labelFont": "Liberation Sans",
      "titleFont": "Liberation Sans",
      "labelFontSize": 20,
      "titleFontSize": 21,
      "titleFontWeight": "bold",
      "labelFlush": false,
      "labelOverlap": false
    }
  }
}
